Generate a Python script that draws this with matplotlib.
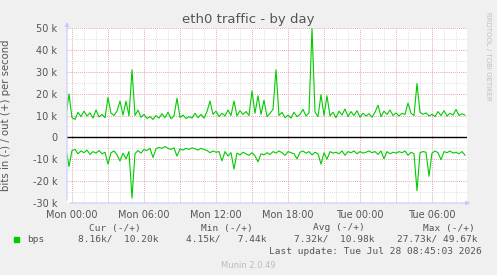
import numpy as np
import matplotlib
matplotlib.use("Agg")
from matplotlib import pyplot as plt

# 15 minute samples, hours relative to Mon 00:00
start_hour = -0.5
step_hour = 0.25

# out (+) traffic, k bits/s
out_k = [10.0, 19.8, 9.0, 8.2, 11.5, 9.5, 12.0, 9.8, 11.2, 8.8,
         12.5, 9.3, 10.5, 9.0, 18.2, 11.0, 10.0, 12.0, 16.6, 10.2,
         16.5, 9.8, 30.9, 10.0, 12.5, 9.2, 10.5, 8.6, 9.5, 8.2,
         10.0, 8.8, 10.8, 9.0, 11.5, 8.5, 9.8, 17.9, 9.0, 10.2,
         8.6, 9.5, 8.8, 11.0, 9.0, 10.5, 8.8, 11.8, 16.6, 10.5,
         12.0, 9.5, 11.0, 9.8, 12.5, 10.0, 16.6, 9.8, 12.2, 10.5,
         11.8, 10.0, 21.2, 11.0, 19.0, 10.5, 17.0, 9.5, 11.0, 12.8,
         30.9, 10.0, 11.5, 9.0, 10.2, 8.8, 11.5, 9.5, 10.5, 12.8,
         9.8, 11.2, 49.7, 11.5, 9.5, 19.5, 10.0, 19.0, 9.8, 11.5,
         9.0, 12.0, 10.2, 13.0, 9.5, 11.8, 10.0, 12.2, 9.2, 11.0,
         9.8, 10.8, 9.2, 11.5, 14.7, 9.5, 12.0, 10.5, 12.5, 10.0,
         11.2, 9.8, 11.0, 10.5, 15.7, 11.0, 10.0, 24.6, 11.5, 10.5,
         11.2, 9.8, 10.5, 9.5, 11.8, 10.0, 12.2, 9.8, 11.0, 10.2,
         12.8, 10.0, 10.8, 10.2]

# in (-) traffic, k bits/s (drawn below zero)
in_k = [5.2, 13.3, 6.0, 5.5, 7.5, 6.2, 7.0, 5.8, 7.8, 6.5,
        7.2, 6.0, 7.5, 6.8, 12.2, 7.0, 6.2, 8.0, 10.8, 7.2,
        9.8, 6.5, 27.7, 7.5, 6.0, 7.2, 5.5, 6.0, 5.0, 9.2,
        5.2, 4.6, 5.0, 4.2, 5.0, 5.5, 4.8, 8.6, 5.2, 5.8,
        5.0, 5.5, 4.8, 5.2, 5.8, 5.0, 5.5, 6.0, 7.0, 6.2,
        6.8, 6.5, 10.7, 6.5, 8.5, 7.0, 14.5, 7.2, 8.0, 6.8,
        7.5, 8.2, 7.0, 8.5, 11.2, 7.5, 8.0, 7.0, 7.8, 6.5,
        7.2, 6.2, 7.0, 8.2, 6.5, 7.0, 7.5, 9.8, 6.8, 6.2,
        7.2, 6.5, 8.0, 6.8, 7.5, 12.2, 7.0, 10.0, 6.5, 7.2,
        6.8, 7.5, 6.2, 8.2, 6.5, 7.0, 6.2, 7.5, 6.5, 7.2,
        6.8, 6.2, 7.0, 6.5, 7.8, 6.2, 9.8, 6.5, 7.5, 6.8,
        7.2, 6.5, 7.0, 6.2, 8.2, 6.8, 7.5, 24.4, 7.0, 6.5,
        6.8, 17.8, 7.2, 6.2, 7.0, 10.2, 6.5, 7.0, 6.2, 7.2,
        6.8, 7.5, 6.5, 8.16]

xtick_hours = [0, 6, 12, 18, 24, 30]
xtick_labels = ["Mon 00:00", "Mon 06:00", "Mon 12:00",
                "Mon 18:00", "Tue 00:00", "Tue 06:00"]
ytick_values = [-30000, -20000, -10000, 0, 10000, 20000, 30000, 40000, 50000]
ytick_labels = ["-30 k", "-20 k", "-10 k", "0", "10 k", "20 k", "30 k", "40 k", "50 k"]

legend_head = ["Cur (-/+)", "Min (-/+)", "Avg (-/+)", "Max (-/+)"]
legend_vals = ["8.16k/  10.20k", "4.15k/   7.44k", "7.32k/  10.98k", "27.73k/ 49.67k"]

W, H = 497, 275
BG = "#f0f0f0"
TXT = "#555555"
GREEN = "#00cc00"
AXCOL = "#c8c8ff"


def px(x, y):
    return x / W, 1 - y / H


hours = start_hour + step_hour * np.arange(len(out_k))
out_bps = np.array(out_k) * 1000
in_bps = -np.array(in_k) * 1000

fig = plt.figure(figsize=(W / 100, H / 100), dpi=100, facecolor=BG)
ax = fig.add_axes([67 / W, (H - 203) / H, 400 / W, 175 / H])
ax.set_facecolor("white")

ax.set_xlim(-5 / 12, 395 / 12)
ax.set_ylim(-30000, 50000)

# rrdtool style grid
dot = (0, (1, 1.5))
for h in np.arange(0, 33, 1):
    ax.axvline(h, color="#d4d4d4", lw=0.6, ls=dot, zorder=1)
for h in np.arange(0, 33, 3):
    ax.axvline(h, color="#f0a0a0", lw=0.6, ls=dot, zorder=1)
for v in np.arange(-25000, 50001, 5000):
    ax.axhline(v, color="#d4d4d4", lw=0.6, ls=dot, zorder=1)
for v in ytick_values:
    ax.axhline(v, color="#f0a0a0", lw=0.6, ls=dot, zorder=1)

ax.axhline(0, color="black", lw=1.0, zorder=2)
ax.plot(hours, out_bps, color=GREEN, lw=0.8, zorder=3)
ax.plot(hours, in_bps, color=GREEN, lw=0.8, zorder=3)

for s in ax.spines.values():
    s.set_visible(False)
ax.annotate("", xy=(0, 1.05), xytext=(0, 0), xycoords="axes fraction",
            arrowprops=dict(arrowstyle="-|>", color=AXCOL, lw=0.8, mutation_scale=6))
ax.annotate("", xy=(1.015, 0), xytext=(0, 0), xycoords="axes fraction",
            arrowprops=dict(arrowstyle="-|>", color=AXCOL, lw=0.8, mutation_scale=6))

ax.set_xticks(xtick_hours)
ax.set_xticklabels(xtick_labels)
ax.set_yticks(ytick_values)
ax.set_yticklabels(ytick_labels)
ax.tick_params(length=0, labelsize=7, colors=TXT, pad=7)
ax.tick_params(axis="x", pad=5)

ax.set_ylabel("bits in (-) / out (+) per second", fontsize=7.3, color=TXT, labelpad=4)
ax.yaxis.set_label_coords(-0.14, 0.5)

fig.text(*px(248, 20), "eth0 traffic - by day", fontsize=9.5, color=TXT,
         ha="center", va="center")
fig.text(*px(488, 56), "RRDTOOL / TOBI OETIKER", fontsize=5, color="#c0c0c0",
         rotation=270, ha="center", va="center")

mono = "DejaVu Sans Mono"
fig.patches.append(plt.Rectangle(px(14, 242), 5 / W, 5 / H, color=GREEN,
                                 transform=fig.transFigure, figure=fig))
fig.text(*px(27, 239), "bps", fontsize=6.8, family=mono, color=TXT, va="center")
head_x = [89, 201, 313, 423]
val_x = [78, 186, 294, 397]
for hx, lbl in zip(head_x, legend_head):
    fig.text(*px(hx, 228), lbl, fontsize=6.8, family=mono, color=TXT, va="center")
for vx, lbl in zip(val_x, legend_vals):
    fig.text(*px(vx, 239), lbl, fontsize=6.8, family=mono, color=TXT, va="center")
fig.text(*px(482, 251), "Last update: Tue Jul 28 08:45:03 2026", fontsize=6.8,
         family=mono, color=TXT, ha="right", va="center")
fig.text(*px(248, 265), "Munin 2.0.49", fontsize=6, color="#bbbbbb",
         ha="center", va="center")

fig.savefig("out.png", dpi=100, facecolor=BG)
